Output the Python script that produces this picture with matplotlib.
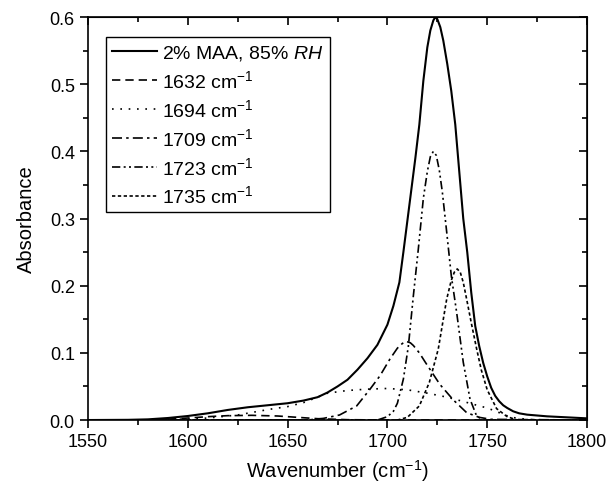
import numpy as np
import matplotlib.pyplot as plt
from matplotlib.ticker import MultipleLocator

plt.rcParams['font.family'] = ['Liberation Sans', 'DejaVu Sans']
plt.rcParams['mathtext.fontset'] = 'custom'
plt.rcParams['mathtext.rm'] = 'Liberation Sans'
plt.rcParams['mathtext.it'] = 'Liberation Sans:italic'

# total spectrum (2% MAA, 85% RH)
wn_total = [1550, 1570, 1580, 1590, 1600, 1610, 1620, 1630, 1640, 1650, 1658, 1665,
            1670, 1675, 1680, 1685, 1690, 1695, 1698, 1700, 1703, 1706, 1708, 1711,
            1714, 1716, 1718, 1720, 1721.5, 1723, 1724, 1725, 1726.5, 1728, 1730, 1732, 1734, 1736,
            1738, 1740, 1742, 1744, 1746, 1748, 1750, 1752, 1754, 1756, 1758, 1760,
            1763, 1766, 1770, 1780, 1790, 1800]
abs_total = [0.0, 0.0003, 0.001, 0.003, 0.006, 0.010, 0.015, 0.019, 0.022, 0.025, 0.029, 0.034,
             0.041, 0.050, 0.060, 0.075, 0.092, 0.112, 0.130, 0.142, 0.170, 0.205, 0.250, 0.320,
             0.390, 0.440, 0.505, 0.555, 0.580, 0.595, 0.600, 0.597, 0.585, 0.565, 0.530, 0.490, 0.440, 0.370,
             0.300, 0.250, 0.190, 0.140, 0.110, 0.085, 0.065, 0.048, 0.036, 0.028, 0.022, 0.018,
             0.013, 0.010, 0.008, 0.0055, 0.004, 0.0025]

# fitted components
wn_1632 = [1550, 1580, 1595, 1610, 1620, 1632, 1645, 1655, 1665, 1680, 1700, 1800]
abs_1632 = [0.0, 0.0, 0.002, 0.005, 0.0065, 0.007, 0.006, 0.004, 0.002, 0.0005, 0.0, 0.0]

wn_1694 = [1550, 1580, 1600, 1610, 1625, 1641, 1650, 1658, 1665, 1670, 1680, 1690, 1700,
           1710, 1720, 1730, 1740, 1746, 1750, 1756, 1762, 1770, 1780, 1800]
abs_1694 = [0.0, 0.0, 0.0015, 0.003, 0.0075, 0.016, 0.020, 0.026, 0.034, 0.040, 0.044, 0.046, 0.047,
            0.045, 0.040, 0.034, 0.026, 0.021, 0.018, 0.011, 0.004, 0.001, 0.0, 0.0]

wn_1709 = [1550, 1660, 1668, 1676, 1684.6, 1691.3, 1696.3, 1701.3, 1705, 1707.5, 1709.5, 1711.5, 1713, 1716,
           1719, 1726.3, 1733, 1739.7, 1746, 1752, 1800]
abs_1709 = [0.0, 0.0, 0.0025, 0.0075, 0.021, 0.046, 0.066, 0.091, 0.107, 0.114, 0.117, 0.115, 0.111, 0.100,
            0.086, 0.053, 0.030, 0.011, 0.004, 0.001, 0.0]

wn_1723 = [1550, 1695, 1700, 1703, 1705, 1708, 1710.5, 1713, 1715.5, 1718, 1720, 1721.5, 1723, 1724.5,
           1726, 1727.5, 1729.7, 1732, 1734.7, 1738, 1741.4, 1744.7, 1748, 1800]
abs_1723 = [0.0, 0.0, 0.005, 0.013, 0.025, 0.061, 0.110, 0.185, 0.255, 0.330, 0.370, 0.392, 0.400, 0.394,
            0.372, 0.340, 0.280, 0.215, 0.160, 0.086, 0.031, 0.006, 0.0, 0.0]

wn_1735 = [1550, 1705, 1710, 1716, 1721, 1725.5, 1729.7, 1732, 1733.5, 1735, 1736.5, 1738, 1739.7, 1742,
           1744.7, 1747, 1750, 1754.7, 1760, 1765, 1800]
abs_1735 = [0.0, 0.0, 0.004, 0.021, 0.056, 0.106, 0.180, 0.208, 0.220, 0.225, 0.220, 0.205, 0.180, 0.145,
            0.106, 0.075, 0.045, 0.017, 0.005, 0.0, 0.0]

fig = plt.figure(figsize=(6.1, 4.89), dpi=100)
ax = fig.add_axes([0.1443, 0.139, 0.818, 0.824])

ax.plot(wn_total, abs_total, color='black', lw=1.5, ls='-', label='2% MAA, 85% $RH$')
ax.plot(wn_1632, abs_1632, color='black', lw=1.2, ls=(0, (5, 3)), label='1632 cm$^{-1}$')
ax.plot(wn_1694, abs_1694, color='black', lw=1.2, ls=(0, (1, 4)), label='1694 cm$^{-1}$')
ax.plot(wn_1709, abs_1709, color='black', lw=1.2, ls=(0, (6, 2.5, 1.5, 2.5)), label='1709 cm$^{-1}$')
ax.plot(wn_1723, abs_1723, color='black', lw=1.2, ls=(0, (5, 2, 1.2, 2, 1.2, 2)), label='1723 cm$^{-1}$')
ax.plot(wn_1735, abs_1735, color='black', lw=1.2, ls=(0, (2, 1.5)), label='1735 cm$^{-1}$')

ax.set_xlim(1550, 1800)
ax.set_ylim(0, 0.6)
ax.xaxis.set_major_locator(MultipleLocator(50))
ax.xaxis.set_minor_locator(MultipleLocator(25))
ax.yaxis.set_major_locator(MultipleLocator(0.1))
ax.yaxis.set_minor_locator(MultipleLocator(0.05))
ax.yaxis.set_major_formatter(plt.FormatStrFormatter('%.1f'))

ax.tick_params(which='both', direction='out', labelsize=13, width=1.2,
               top=False, right=False)
ax.tick_params(which='major', length=6)
ax.tick_params(which='minor', length=3.5)
for sp in ax.spines.values():
    sp.set_linewidth(1.2)

# inward ticks on top and right
axt = ax.secondary_xaxis('top')
axt.xaxis.set_major_locator(MultipleLocator(50))
axt.xaxis.set_minor_locator(MultipleLocator(25))
axt.tick_params(which='both', direction='in', labeltop=False, width=1.2)
axt.tick_params(which='major', length=6)
axt.tick_params(which='minor', length=3.5)
axr = ax.secondary_yaxis('right')
axr.yaxis.set_major_locator(MultipleLocator(0.1))
axr.yaxis.set_minor_locator(MultipleLocator(0.05))
axr.tick_params(which='both', direction='in', labelright=False, width=1.2)
axr.tick_params(which='major', length=6)
axr.tick_params(which='minor', length=3.5)

ax.set_xlabel('Wavenumber (cm$^{-1}$)', fontsize=14.5, labelpad=5)
ax.set_ylabel('Absorbance', fontsize=14.5, labelpad=10)

leg = ax.legend(loc='upper left', bbox_to_anchor=(0.036, 0.95), borderaxespad=0,
                fontsize=14, handlelength=2.3, handletextpad=0.3, labelspacing=0.36,
                fancybox=False, edgecolor='black', framealpha=1, borderpad=0.3)
leg.get_frame().set_linewidth(1.0)

fig.savefig('out.png', dpi=100)
